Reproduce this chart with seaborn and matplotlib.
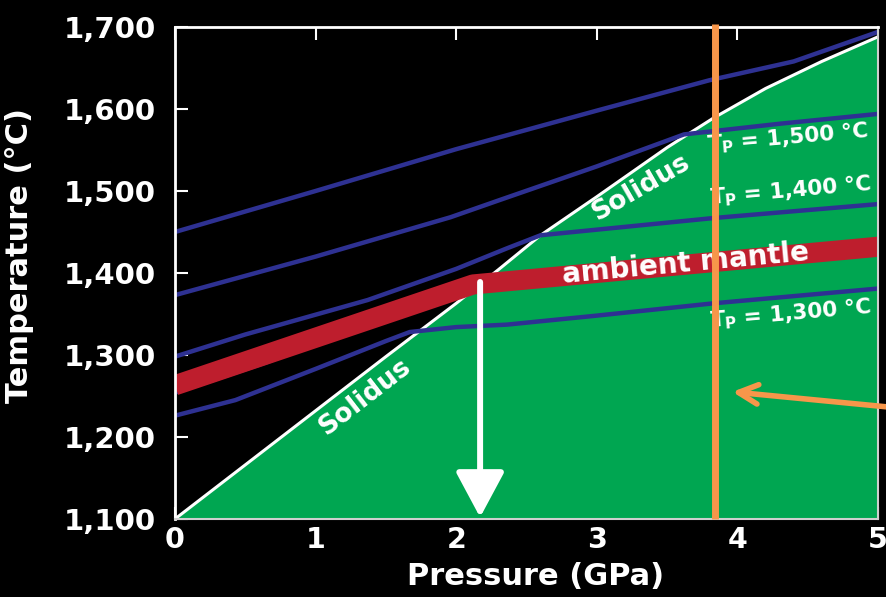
import numpy as np
import pandas as pd
import matplotlib
matplotlib.use("Agg")
import matplotlib.pyplot as plt
import seaborn as sns

# solidus (peridotite)
solidus_p = [0, 0.5, 1.0, 1.5, 2.0, 2.3, 2.6, 3.0, 3.5, 3.83, 4.2, 4.6, 5.0]
solidus_t = [1100, 1166, 1232, 1298, 1363, 1404, 1446, 1493, 1553, 1589, 1625, 1658, 1688]

# mantle adiabats (blue lines)
ad1_p = [0, 1, 2, 3, 3.8, 4.4, 5.0]
ad1_t = [1450, 1500, 1551, 1598, 1635, 1658, 1694]
ad2_p = [0, 1, 1.96, 2.31, 3.0, 3.62, 4.3, 5.0]
ad2_t = [1373, 1420, 1468, 1489, 1530, 1569, 1582, 1594]
ad3_p = [0, 0.5, 1.37, 2.0, 2.36, 2.6, 3.83, 5.0]
ad3_t = [1298, 1325, 1367, 1405, 1430, 1446, 1467, 1484]
ad4_p = [0, 0.65, 1.3, 2.1, 2.6, 5.0]
ad4_t = [1254, 1291, 1333, 1378, 1386, 1424]
ad5_p = [0, 0.43, 1.0, 1.5, 1.67, 2.0, 2.36, 3.0, 3.83, 5.0]
ad5_t = [1226, 1245, 1283, 1317, 1328, 1334, 1337, 1348, 1363, 1381]

# ambient mantle path (red band)
amb_p = [0, 2.12, 5.0]
amb_t = [1263, 1386, 1432]

# melting column arrow, orange line
arrow_p = 2.17
arrow_t = [1389, 1102]
orange_p = 3.84

xticks = [0, 1, 2, 3, 4, 5]
yticks = [1100, 1200, 1300, 1400, 1500, 1600, 1700]
ytick_labels = ['1,100', '1,200', '1,300', '1,400', '1,500', '1,600', '1,700']

green = '#00a651'
blue = '#2e3192'
red = '#be1e2d'
orange = '#f7964a'

sns.set_theme(style='dark', rc={'axes.facecolor': 'black', 'figure.facecolor': 'black'})
plt.rcParams['font.family'] = ['DejaVu Sans']
plt.rcParams['mathtext.fontset'] = 'dejavusans'

fig = plt.figure(figsize=(8.86, 5.97), dpi=100)
ax = fig.add_axes([0.1975, 0.1307, 0.7935, 0.8241])

ax.fill_between(solidus_p, solidus_t, 1100, color=green, lw=0, zorder=1)

adiabats = pd.concat([
    pd.DataFrame({'P': p, 'T': t, 'curve': name})
    for name, p, t in [('a1', ad1_p, ad1_t), ('a2', ad2_p, ad2_t), ('a3', ad3_p, ad3_t),
                       ('a4', ad4_p, ad4_t), ('a5', ad5_p, ad5_t)]
])
sns.lineplot(data=adiabats, x='P', y='T', units='curve', estimator=None,
             color=blue, lw=3.2, ax=ax, zorder=3)
sns.lineplot(x=solidus_p, y=solidus_t, color='white', lw=2.2, ax=ax, zorder=2)
sns.lineplot(x=amb_p, y=amb_t, color=red, lw=14.5, ax=ax, zorder=4,
             solid_capstyle='butt', solid_joinstyle='round')

# labels on the chart
bold = dict(color='white', fontweight='bold', ha='center', va='center',
            rotation_mode='anchor', zorder=6)
ax.text(1.35, 1249, 'Solidus', fontsize=19, rotation=37.7, **bold)
ax.text(3.31, 1504, 'Solidus', fontsize=19, rotation=30, **bold)
ax.text(3.63, 1412, 'ambient mantle', fontsize=20, rotation=5.3, **bold)
ax.text(4.36, 1565, r'$\mathbf{T_P}$ = 1,500 °C', fontsize=15.5, rotation=5, **bold)
ax.text(4.38, 1500, r'$\mathbf{T_P}$ = 1,400 °C', fontsize=15.5, rotation=5, **bold)
ax.text(4.38, 1350, r'$\mathbf{T_P}$ = 1,300 °C', fontsize=15.5, rotation=5, **bold)

ax.annotate('', xy=(arrow_p, arrow_t[1]), xytext=(arrow_p, arrow_t[0]),
            arrowprops=dict(arrowstyle='-|>,head_length=2.8,head_width=1.5',
                            mutation_scale=10, lw=4.3, color='white',
                            shrinkA=0, shrinkB=0), zorder=7)

ax.plot([orange_p, orange_p], [1100, 1703.5], color=orange, lw=5,
        solid_capstyle='butt', clip_on=False, zorder=8)
ax.annotate('', xy=(3.964, 1255), xytext=(5.07, 1236.6),
            arrowprops=dict(arrowstyle='->,head_length=1.4,head_width=0.7',
                            mutation_scale=10, lw=4, color=orange,
                            shrinkA=0, shrinkB=0, capstyle='round', clip_on=False),
            annotation_clip=False, zorder=8)

ax.set_xlim(0, 5)
ax.set_ylim(1100, 1700)
ax.set_xticks(xticks)
ax.set_xticklabels([str(x) for x in xticks], fontsize=20.5, fontweight='bold', color='white')
ax.set_yticks(yticks)
ax.set_yticklabels(ytick_labels, fontsize=21, fontweight='bold', color='white')
ax.tick_params(axis='x', direction='in', length=9, width=1.5, color='white',
               top=True, bottom=True, pad=5)
ax.tick_params(axis='y', direction='in', length=9, width=1.5, color='white',
               left=True, right=False, pad=14)
ax.grid(False)

for side in ['left', 'top']:
    ax.spines[side].set_color('white')
    ax.spines[side].set_linewidth(2)
for side in ['bottom', 'right']:
    ax.spines[side].set_color('#cfcfcf')
    ax.spines[side].set_linewidth(1.5)
for s in ax.spines.values():
    s.set_visible(True)
    s.set_zorder(5)

ax.set_xlabel('Pressure (GPa)', fontsize=22, fontweight='bold', color='white')
ax.set_ylabel('Temperature (°C)', fontsize=22, fontweight='bold', color='white')
ax.xaxis.set_label_coords(0.513, -0.087)
ax.yaxis.set_label_coords(-0.2, 0.535)

fig.savefig('out.png', dpi=100, facecolor='black')
